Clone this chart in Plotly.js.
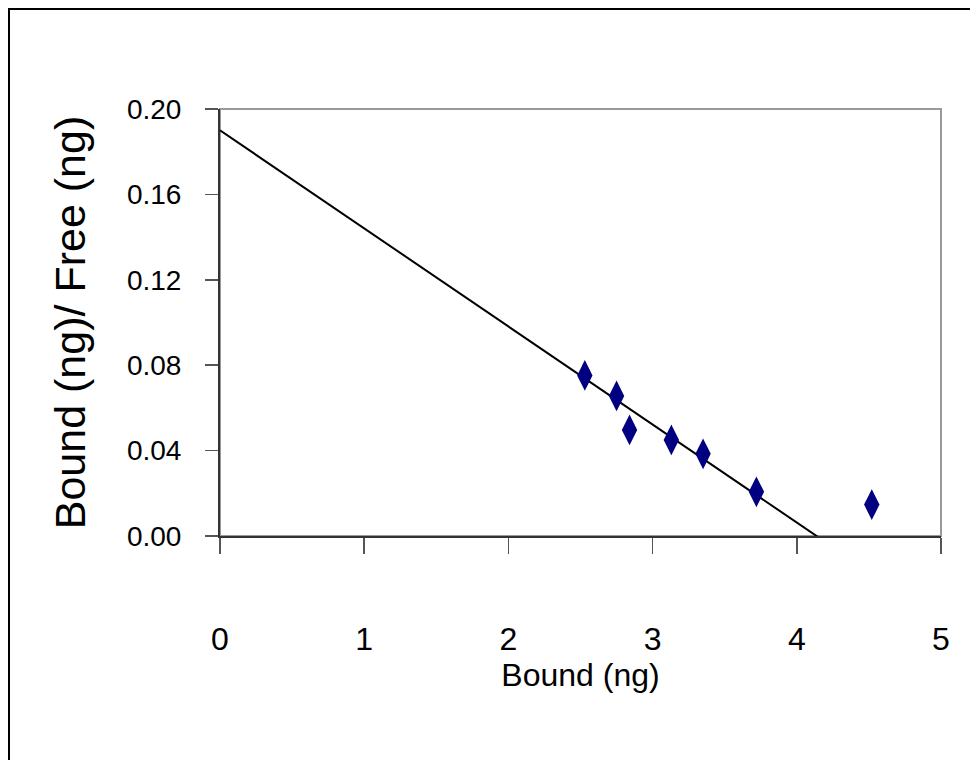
<!DOCTYPE html>
<html>
<head>
<meta charset="utf-8">
<script src="https://cdn.plot.ly/plotly-3.0.1.min.js"></script>
<style>
html,body{margin:0;padding:0;background:#fff;overflow:hidden;}
#chart{width:970px;height:760px;position:absolute;left:0;top:0;}
#frame{position:absolute;left:8px;top:8px;width:2000px;height:2000px;border:2px solid #000;pointer-events:none;}
</style>
</head>
<body>
<div id="chart"></div>
<div id="frame"></div>
<script>
// Data points (Scatchard plot)
var boundX = [2.53, 2.75, 2.84, 3.13, 3.35, 3.72, 4.52];
var ratioY = [0.0752, 0.0656, 0.0497, 0.0450, 0.0385, 0.0207, 0.0147];
// Fitted regression line endpoints
var fitX = [0, 4.17];
var fitY = [0.190, -0.0015];
var xTicks = [0, 1, 2, 3, 4, 5];
var yTicks = [0.00, 0.04, 0.08, 0.12, 0.16, 0.20];

var font = "Liberation Sans, Arial, sans-serif";

var traces = [
  {x: fitX, y: fitY, mode: 'lines', type: 'scatter',
   line: {color: '#000000', width: 2}, hoverinfo: 'skip', showlegend: false},
  {x: boundX, y: ratioY, mode: 'markers', type: 'scatter',
   marker: {symbol: 'diamond-tall', size: 22, color: '#000080'}, showlegend: false, cliponaxis: false}
];

var layout = {
  width: 970, height: 760,
  margin: {l: 220, r: 29, t: 109, b: 224},
  paper_bgcolor: '#ffffff', plot_bgcolor: '#ffffff',
  showlegend: false,
  font: {family: font, color: '#000'},
  xaxis: {
    range: [0, 5], tickvals: xTicks, ticktext: xTicks.map(String),
    showgrid: false, zeroline: false,
    showline: true, linecolor: '#333333', linewidth: 2,
    ticks: 'outside', ticklen: 16, tickwidth: 1.5, tickcolor: '#555555',
    tickfont: {family: font, size: 32, color: '#000'},
    ticklabelstandoff: 58,
    title: {text: 'Bound (ng)', font: {family: font, size: 32, color: '#000'}, standoff: 4},
    automargin: false, fixedrange: true
  },
  yaxis: {
    range: [0, 0.2], tickvals: yTicks, ticktext: yTicks.map(function(v){return v.toFixed(2);}),
    showgrid: false, zeroline: false,
    showline: true, linecolor: '#333333', linewidth: 2,
    ticks: 'outside', ticklen: 13, tickwidth: 1.5, tickcolor: '#555555',
    tickfont: {family: font, size: 28, color: '#000'},
    ticklabelstandoff: 18,
    title: {text: 'Bound (ng)/ Free (ng)', font: {family: font, size: 43, color: '#000'}, standoff: 28},
    automargin: false, fixedrange: true
  },
  shapes: [
    {type: 'rect', xref: 'paper', yref: 'paper', x0: 0, x1: 1, y0: 0, y1: 1,
     line: {color: '#999999', width: 2}, layer: 'below'}
  ]
};

Plotly.newPlot('chart', traces, layout, {displayModeBar: false, staticPlot: true});
</script>
</body>
</html>
